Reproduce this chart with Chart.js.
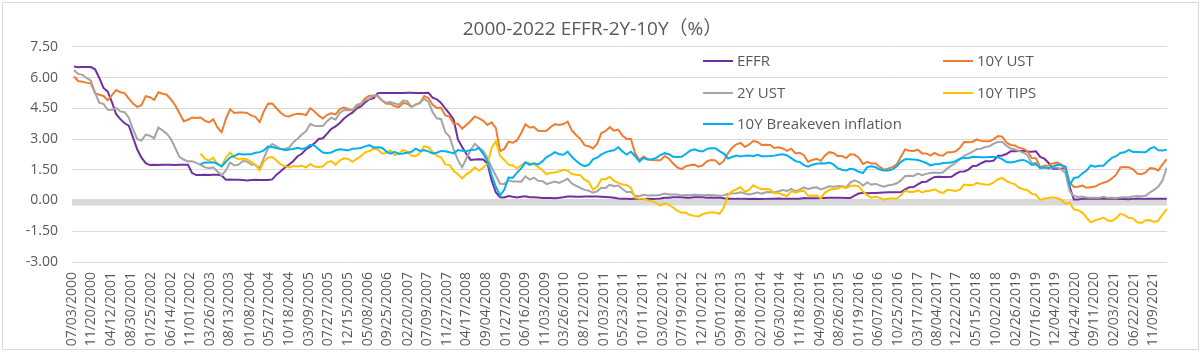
<!DOCTYPE html>
<html>
<head>
<meta charset="utf-8">
<script src="https://cdn.jsdelivr.net/npm/chart.js@4.4.1/dist/chart.umd.min.js"></script>
<style>
  body { margin: 0; background: #fff; }
  #wrap { position: relative; width: 1200px; height: 353px; overflow: hidden; }
  #frame { position: absolute; left: 2px; top: 2px; width: 1195px; height: 346px; border: 1px solid #d9d9d9; }
  canvas { position: absolute; left: 0; top: 0; }
  .lg { position: absolute; font-family: 'Open Sans', sans-serif; font-size: 15px; color: #595959; white-space: nowrap; line-height: 20px; }
  .lg i { display: inline-block; width: 30px; height: 2px; vertical-align: middle; margin-right: 4px; position: relative; top: -1px; }
</style>
</head>
<body>
<div id="wrap">
  <div id="frame"></div>
  <canvas id="chart" width="1200" height="353"></canvas>
</div>
<script>
// categories / labels
const seriesNames = ['EFFR', '10Y UST', '2Y UST', '10Y TIPS', '10Y Breakeven inflation'];
const seriesColors = ['#7030A0', '#ED7D31', '#A5A5A5', '#FFC000', '#00B0F0'];
const titleText = '2000-2022 EFFR-2Y-10Y（%）';

const xTickLabels = [
  '07/03/2000', '11/20/2000', '04/12/2001', '08/30/2001', '01/25/2002', '06/14/2002', '11/01/2002',
  '03/26/2003', '08/13/2003', '01/08/2004', '05/27/2004', '10/18/2004', '03/09/2005', '07/27/2005',
  '12/15/2005', '05/08/2006', '09/25/2006', '02/20/2007', '07/09/2007', '11/27/2007', '04/17/2008',
  '09/04/2008', '01/27/2009', '06/16/2009', '11/03/2009', '03/26/2010', '08/12/2010', '01/03/2011',
  '05/23/2011', '10/11/2011', '03/02/2012', '07/19/2012', '12/10/2012', '05/01/2013', '09/18/2013',
  '02/10/2014', '06/30/2014', '11/18/2014', '04/09/2015', '08/26/2015', '01/19/2016', '06/07/2016',
  '10/25/2016', '03/17/2017', '08/04/2017', '12/22/2017', '05/15/2018', '10/02/2018', '02/26/2019',
  '07/16/2019', '12/04/2019', '04/24/2020', '09/11/2020', '02/03/2021', '06/22/2021', '11/09/2021'
];
const yTickValues = [-3, -1.5, 0, 1.5, 3, 4.5, 6, 7.5];

// monthly readings, first month of each series
const startEffr = [2000, 7];
const startTips = [2003, 1];

const effr = [
  6.54, 6.50, 6.52, 6.51, 6.51, 6.40,
  5.98, 5.49, 5.31, 4.80, 4.21, 3.97, 3.77, 3.65, 3.07, 2.49, 2.09, 1.82,
  1.73, 1.74, 1.73, 1.75, 1.75, 1.75, 1.73, 1.74, 1.75, 1.75, 1.34, 1.24,
  1.24, 1.26, 1.25, 1.26, 1.26, 1.22, 1.01, 1.03, 1.01, 1.01, 1.00, 0.98,
  1.00, 1.01, 1.00, 1.00, 1.00, 1.03, 1.26, 1.43, 1.61, 1.76, 1.93, 2.16,
  2.28, 2.50, 2.63, 2.79, 3.00, 3.04, 3.26, 3.50, 3.62, 3.78, 4.00, 4.16,
  4.29, 4.49, 4.59, 4.79, 4.94, 4.99, 5.24, 5.25, 5.25, 5.25, 5.25, 5.24,
  5.25, 5.26, 5.26, 5.25, 5.25, 5.25, 5.26, 5.02, 4.94, 4.76, 4.49, 4.24,
  3.94, 2.98, 2.61, 2.28, 1.98, 2.00, 2.01, 2.00, 1.81, 0.97, 0.39, 0.16,
  0.15, 0.22, 0.18, 0.15, 0.18, 0.21, 0.16, 0.16, 0.15, 0.12, 0.12, 0.12,
  0.11, 0.13, 0.16, 0.20, 0.20, 0.18, 0.18, 0.19, 0.19, 0.19, 0.19, 0.18,
  0.17, 0.16, 0.14, 0.10, 0.09, 0.09, 0.07, 0.10, 0.08, 0.07, 0.08, 0.07,
  0.08, 0.10, 0.13, 0.14, 0.16, 0.16, 0.16, 0.13, 0.14, 0.16, 0.16, 0.16,
  0.14, 0.15, 0.14, 0.15, 0.11, 0.09, 0.09, 0.08, 0.08, 0.09, 0.08, 0.09,
  0.07, 0.07, 0.08, 0.09, 0.09, 0.10, 0.09, 0.09, 0.09, 0.09, 0.09, 0.12,
  0.11, 0.11, 0.11, 0.12, 0.12, 0.13, 0.13, 0.14, 0.14, 0.12, 0.12, 0.24,
  0.34, 0.38, 0.36, 0.37, 0.37, 0.38, 0.39, 0.40, 0.40, 0.40, 0.41, 0.54,
  0.65, 0.66, 0.79, 0.90, 0.91, 1.04, 1.15, 1.16, 1.15, 1.15, 1.16, 1.30,
  1.41, 1.42, 1.51, 1.69, 1.70, 1.82, 1.91, 1.91, 1.95, 2.19, 2.20, 2.27,
  2.40, 2.40, 2.41, 2.42, 2.39, 2.38, 2.40, 2.13, 2.04, 1.83, 1.55, 1.55,
  1.55, 1.58, 0.65, 0.05, 0.05, 0.08, 0.09, 0.10, 0.09, 0.09, 0.09, 0.09,
  0.09, 0.08, 0.07, 0.07, 0.06, 0.08, 0.10, 0.09, 0.08, 0.08, 0.08, 0.08,
  0.08, 0.08
];

const ust10 = [
  6.05, 5.83, 5.80, 5.74, 5.72, 5.24,
  5.16, 5.10, 4.89, 5.14, 5.39, 5.28, 5.24, 4.97, 4.73, 4.57, 4.65, 5.09,
  5.04, 4.91, 5.28, 5.21, 5.16, 4.93, 4.65, 4.26, 3.87, 3.94, 4.05, 4.03,
  4.05, 3.90, 3.81, 3.96, 3.57, 3.33, 3.98, 4.45, 4.27, 4.29, 4.30, 4.27,
  4.15, 4.08, 3.83, 4.35, 4.72, 4.73, 4.50, 4.28, 4.13, 4.10, 4.19, 4.23,
  4.22, 4.17, 4.50, 4.34, 4.14, 4.00, 4.18, 4.26, 4.20, 4.46, 4.54, 4.47,
  4.42, 4.57, 4.72, 4.99, 5.11, 5.11, 5.09, 4.88, 4.72, 4.73, 4.60, 4.56,
  4.76, 4.72, 4.56, 4.69, 4.75, 5.10, 5.00, 4.67, 4.52, 4.53, 4.15, 4.10,
  3.74, 3.74, 3.51, 3.68, 3.88, 4.10, 4.01, 3.89, 3.69, 3.81, 3.53, 2.42,
  2.52, 2.87, 2.82, 2.93, 3.29, 3.72, 3.56, 3.59, 3.40, 3.39, 3.40, 3.59,
  3.73, 3.69, 3.73, 3.85, 3.42, 3.20, 3.01, 2.70, 2.65, 2.54, 2.76, 3.29,
  3.39, 3.58, 3.41, 3.46, 3.17, 3.00, 3.00, 2.30, 1.98, 2.15, 2.01, 1.98,
  1.97, 1.97, 2.17, 2.05, 1.80, 1.62, 1.53, 1.68, 1.72, 1.75, 1.65, 1.72,
  1.91, 1.98, 1.96, 1.76, 1.93, 2.30, 2.58, 2.74, 2.81, 2.62, 2.72, 2.90,
  2.86, 2.71, 2.72, 2.71, 2.56, 2.60, 2.54, 2.42, 2.53, 2.30, 2.33, 2.21,
  1.88, 1.98, 2.04, 1.94, 2.20, 2.36, 2.32, 2.17, 2.17, 2.07, 2.26, 2.24,
  2.09, 1.78, 1.89, 1.81, 1.81, 1.64, 1.50, 1.56, 1.63, 1.76, 2.14, 2.49,
  2.43, 2.42, 2.48, 2.30, 2.30, 2.19, 2.32, 2.21, 2.20, 2.36, 2.35, 2.40,
  2.58, 2.86, 2.84, 2.87, 2.98, 2.91, 2.89, 2.89, 3.00, 3.15, 3.12, 2.83,
  2.71, 2.68, 2.57, 2.53, 2.40, 2.07, 2.06, 1.63, 1.70, 1.71, 1.81, 1.86,
  1.76, 1.50, 0.87, 0.66, 0.67, 0.73, 0.62, 0.65, 0.68, 0.79, 0.87, 0.93,
  1.08, 1.26, 1.61, 1.64, 1.62, 1.52, 1.32, 1.28, 1.37, 1.58, 1.56, 1.47,
  1.76, 2.02
];

const ust2 = [
  6.36, 6.18, 6.13, 5.98, 5.85, 5.26,
  4.77, 4.71, 4.43, 4.42, 4.51, 4.35, 4.31, 4.04, 3.47, 2.99, 2.92, 3.21,
  3.16, 3.03, 3.56, 3.42, 3.26, 2.99, 2.56, 2.13, 2.00, 1.91, 1.92, 1.84,
  1.74, 1.63, 1.57, 1.62, 1.42, 1.23, 1.47, 1.86, 1.71, 1.75, 1.93, 1.91,
  1.76, 1.74, 1.58, 2.07, 2.53, 2.76, 2.64, 2.51, 2.53, 2.58, 2.85, 3.01,
  3.22, 3.38, 3.73, 3.65, 3.64, 3.64, 3.87, 4.04, 3.95, 4.27, 4.42, 4.40,
  4.40, 4.67, 4.73, 4.89, 4.97, 5.12, 5.12, 4.90, 4.77, 4.80, 4.74, 4.67,
  4.88, 4.85, 4.57, 4.67, 4.77, 4.96, 4.82, 4.31, 4.01, 3.97, 3.34, 3.12,
  2.48, 1.97, 1.62, 2.05, 2.45, 2.77, 2.57, 2.42, 2.08, 1.61, 1.21, 0.82,
  0.81, 0.98, 0.93, 0.93, 0.92, 1.18, 1.02, 1.12, 0.96, 0.95, 0.80, 0.87,
  0.93, 0.86, 0.96, 1.06, 0.83, 0.72, 0.62, 0.52, 0.48, 0.38, 0.45, 0.62,
  0.61, 0.77, 0.70, 0.73, 0.56, 0.41, 0.41, 0.23, 0.21, 0.28, 0.25, 0.26,
  0.24, 0.28, 0.34, 0.29, 0.29, 0.29, 0.25, 0.27, 0.26, 0.28, 0.27, 0.26,
  0.27, 0.27, 0.26, 0.23, 0.25, 0.33, 0.34, 0.36, 0.40, 0.34, 0.30, 0.34,
  0.39, 0.33, 0.40, 0.42, 0.39, 0.45, 0.51, 0.47, 0.57, 0.45, 0.53, 0.64,
  0.55, 0.62, 0.64, 0.54, 0.61, 0.69, 0.67, 0.70, 0.71, 0.64, 0.88, 0.98,
  0.90, 0.73, 0.88, 0.77, 0.82, 0.73, 0.67, 0.74, 0.77, 0.84, 0.98, 1.20,
  1.21, 1.20, 1.31, 1.24, 1.30, 1.34, 1.37, 1.34, 1.38, 1.57, 1.70, 1.84,
  2.03, 2.18, 2.28, 2.38, 2.51, 2.53, 2.61, 2.65, 2.77, 2.86, 2.86, 2.68,
  2.54, 2.50, 2.41, 2.34, 2.21, 1.81, 1.84, 1.57, 1.65, 1.55, 1.61, 1.61,
  1.52, 1.33, 0.45, 0.22, 0.17, 0.19, 0.15, 0.14, 0.13, 0.14, 0.18, 0.13,
  0.13, 0.12, 0.15, 0.16, 0.16, 0.20, 0.22, 0.21, 0.23, 0.39, 0.52, 0.68,
  0.98, 1.60
];

const tips10 = [
  2.29, 2.04, 1.95, 2.09, 1.77, 1.67, 2.09, 2.34, 2.10, 2.01, 2.05, 2.01,
  1.89, 1.75, 1.47, 1.90, 2.09, 2.12, 1.95, 1.76, 1.68, 1.61, 1.68, 1.66,
  1.70, 1.61, 1.78, 1.66, 1.64, 1.66, 1.86, 1.92, 1.75, 1.96, 2.06, 2.03,
  1.89, 2.03, 2.16, 2.35, 2.41, 2.52, 2.49, 2.30, 2.32, 2.44, 2.22, 2.29,
  2.47, 2.39, 2.18, 2.16, 2.33, 2.65, 2.60, 2.37, 2.19, 2.11, 1.75, 1.74,
  1.44, 1.28, 1.08, 1.28, 1.41, 1.62, 1.45, 1.61, 1.78, 2.58, 2.89, 2.17,
  1.98, 1.75, 1.71, 1.57, 1.72, 1.86, 1.82, 1.77, 1.64, 1.48, 1.28, 1.36,
  1.37, 1.43, 1.50, 1.47, 1.29, 1.26, 1.24, 1.02, 0.91, 0.53, 0.67, 1.04,
  1.04, 1.16, 0.96, 0.86, 0.78, 0.76, 0.62, 0.14, 0.08, 0.08, 0.01, -0.03,
  -0.11, -0.25, -0.14, -0.21, -0.34, -0.50, -0.60, -0.59, -0.71, -0.75, -0.78, -0.67,
  -0.61, -0.57, -0.59, -0.65, -0.36, 0.25, 0.46, 0.55, 0.66, 0.43, 0.52, 0.74,
  0.63, 0.55, 0.56, 0.54, 0.37, 0.37, 0.28, 0.22, 0.46, 0.38, 0.45, 0.48,
  0.23, 0.23, 0.25, 0.12, 0.39, 0.51, 0.56, 0.59, 0.67, 0.60, 0.71, 0.73,
  0.69, 0.44, 0.26, 0.14, 0.19, 0.13, 0.04, 0.09, 0.11, 0.09, 0.25, 0.48,
  0.42, 0.42, 0.50, 0.39, 0.47, 0.48, 0.55, 0.43, 0.37, 0.52, 0.50, 0.47,
  0.54, 0.78, 0.76, 0.74, 0.86, 0.80, 0.78, 0.77, 0.88, 1.04, 1.10, 0.95,
  0.86, 0.79, 0.62, 0.55, 0.50, 0.33, 0.29, 0.03, 0.10, 0.12, 0.16, 0.11,
  0.04, -0.16, -0.11, -0.44, -0.47, -0.59, -0.84, -1.06, -0.97, -0.91, -0.83, -0.98,
  -1.00, -0.86, -0.65, -0.71, -0.84, -0.87, -1.06, -1.09, -0.96, -0.95, -1.05, -0.98,
  -0.68, -0.42
];

const breakeven10 = [
  1.77, 1.86, 1.86, 1.87, 1.80, 1.66, 1.89, 2.11, 2.17, 2.28, 2.25, 2.26,
  2.26, 2.33, 2.36, 2.45, 2.63, 2.61, 2.55, 2.52, 2.45, 2.49, 2.51, 2.57,
  2.52, 2.56, 2.72, 2.68, 2.50, 2.34, 2.32, 2.34, 2.45, 2.50, 2.48, 2.44,
  2.53, 2.54, 2.56, 2.64, 2.70, 2.59, 2.60, 2.58, 2.40, 2.29, 2.38, 2.27,
  2.29, 2.33, 2.38, 2.53, 2.42, 2.45, 2.40, 2.30, 2.33, 2.42, 2.40, 2.36,
  2.30, 2.46, 2.43, 2.40, 2.47, 2.48, 2.56, 2.28, 1.91, 1.23, 0.67, 0.25,
  0.53, 1.12, 1.11, 1.36, 1.57, 1.86, 1.74, 1.82, 1.76, 1.91, 2.12, 2.23,
  2.36, 2.26, 2.23, 2.38, 2.13, 1.94, 1.77, 1.68, 1.74, 2.01, 2.09, 2.25,
  2.35, 2.42, 2.45, 2.60, 2.39, 2.24, 2.38, 2.16, 1.90, 2.07, 2.00, 2.01,
  2.08, 2.22, 2.31, 2.26, 2.14, 2.12, 2.13, 2.27, 2.43, 2.50, 2.43, 2.39,
  2.52, 2.55, 2.55, 2.41, 2.29, 2.05, 2.12, 2.19, 2.15, 2.19, 2.20, 2.16,
  2.23, 2.16, 2.16, 2.17, 2.19, 2.23, 2.26, 2.20, 2.07, 1.92, 1.88, 1.73,
  1.65, 1.75, 1.79, 1.82, 1.81, 1.85, 1.76, 1.58, 1.50, 1.47, 1.55, 1.51,
  1.40, 1.34, 1.63, 1.67, 1.62, 1.51, 1.46, 1.47, 1.52, 1.67, 1.89, 2.01,
  2.01, 2.00, 1.98, 1.91, 1.83, 1.71, 1.77, 1.78, 1.83, 1.84, 1.85, 1.93,
  2.04, 2.08, 2.08, 2.13, 2.12, 2.11, 2.11, 2.12, 2.12, 2.11, 2.02, 1.88,
  1.85, 1.89, 1.95, 1.98, 1.90, 1.74, 1.77, 1.60, 1.60, 1.59, 1.65, 1.75,
  1.72, 1.66, 0.75, 1.10, 1.14, 1.32, 1.46, 1.71, 1.65, 1.70, 1.70, 1.91,
  2.08, 2.16, 2.32, 2.35, 2.47, 2.37, 2.37, 2.35, 2.35, 2.53, 2.61, 2.45,
  2.44, 2.48
];

const FONT = "'Open Sans', 'Noto Sans CJK SC', sans-serif";
const TEXT = '#595959';

// 'MM/DD/YYYY' -> fractional year, used for tick positions
function dateToYear(s) {
  const [m, d, y] = s.split('/').map(Number);
  const start = Date.UTC(y, 0, 1);
  const days = (Date.UTC(y + 1, 0, 1) - start) / 86400000;
  return y + (Date.UTC(y, m - 1, d) - start) / 86400000 / days;
}

// monthly value k of a series starting at [year, month] sits mid-month
function toPoints(values, start) {
  return values.map((v, k) => ({ x: start[0] + (start[1] - 1 + k + 0.5) / 12, y: v }));
}

const xMin = dateToYear('07/03/2000');
const xMax = 2022.13;

const allSeries = [
  toPoints(effr, startEffr),
  toPoints(ust10, startEffr),
  toPoints(ust2, startEffr),
  toPoints(tips10, startTips),
  toPoints(breakeven10, startTips)
];

// the thick grey horizontal axis line at 0
const zeroBand = {
  id: 'zeroBand',
  beforeDatasetsDraw(chart) {
    const { ctx, chartArea, scales } = chart;
    const y0 = scales.y.getPixelForValue(0);
    ctx.save();
    ctx.fillStyle = '#d9d9d9';
    ctx.fillRect(chartArea.left, y0 - 1.5, chartArea.right - chartArea.left, 6.5);
    ctx.restore();
  }
};

new Chart(document.getElementById('chart'), {
  type: 'line',
  data: {
    datasets: allSeries.map((pts, i) => ({
      label: seriesNames[i],
      data: pts,
      borderColor: seriesColors[i],
      backgroundColor: seriesColors[i],
      borderWidth: 2,
      pointRadius: 0,
      tension: 0,
      fill: false,
      order: seriesNames.length - i   // excel draws later series on top
    }))
  },
  options: {
    responsive: false,
    animation: false,
    layout: { padding: { left: 18, right: 33, top: 0, bottom: 0 } },
    plugins: {
      legend: { display: false },
      tooltip: { enabled: false },
      title: {
        display: true,
        text: titleText,
        color: TEXT,
        font: { family: FONT, size: 19, weight: 'normal' },
        padding: { top: 18, bottom: 6 }
      }
    },
    scales: {
      x: {
        type: 'linear',
        min: xMin,
        max: xMax,
        grid: { display: false, drawTicks: false },
        border: { display: false },
        afterBuildTicks: s => { s.ticks = xTickLabels.map(t => ({ value: dateToYear(t) })); },
        afterFit: s => { s.height = 91; },
        ticks: {
          autoSkip: false,
          minRotation: 90,
          maxRotation: 90,
          padding: 10,
          color: TEXT,
          font: { family: FONT, size: 14 },
          callback: (v, i) => xTickLabels[i]
        }
      },
      y: {
        min: -3,
        max: 7.5,
        grid: { color: '#d9d9d9', drawTicks: false },
        border: { display: false },
        afterBuildTicks: s => { s.ticks = yTickValues.map(v => ({ value: v })); },
        afterFit: s => { s.width = 54; },
        ticks: {
          padding: 14,
          color: TEXT,
          font: { family: FONT, size: 14 },
          callback: v => v.toFixed(2)
        }
      }
    }
  },
  plugins: [zeroBand]
});

// legend: two columns inside the plot, top right
const legendCols = [703, 943];
const legendRows = [60, 92, 123];
const wrap = document.getElementById('wrap');
seriesNames.forEach((name, i) => {
  const el = document.createElement('div');
  el.className = 'lg';
  el.style.left = legendCols[i % 2] + 'px';
  el.style.top = (legendRows[Math.floor(i / 2)] - 10) + 'px';
  el.innerHTML = '<i style="background:' + seriesColors[i] + '"></i>' + name;
  wrap.appendChild(el);
});
</script>
</body>
</html>
